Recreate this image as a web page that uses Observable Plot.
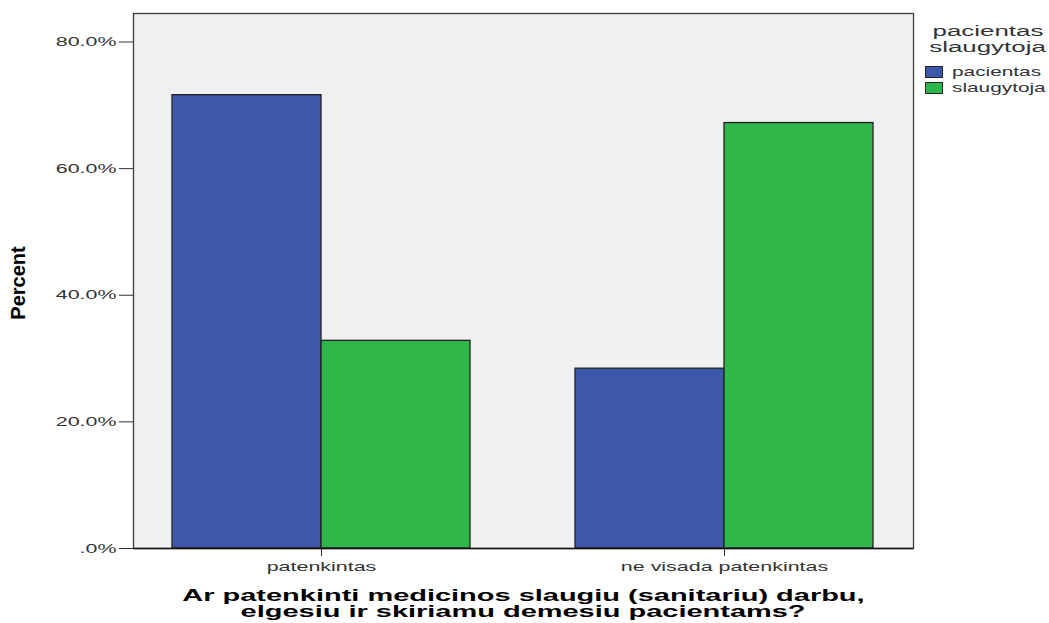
<!DOCTYPE html>
<html><head><meta charset="utf-8">
<script src="https://cdn.jsdelivr.net/npm/d3@7"></script>
<script src="https://cdn.jsdelivr.net/npm/@observablehq/plot@0.6"></script>
<style>
body{margin:0;background:#fff;font-family:"Liberation Sans",Arial,sans-serif;}
#wrap{position:relative;width:1049px;height:623px;overflow:hidden;}
.st{display:inline-block;white-space:nowrap;transform-origin:center;}
</style></head><body><div id="wrap"></div>
<script>
// ---- data ----
const categories = ["patenkintas", "ne visada patenkintas"];
const series = ["pacientas", "slaugytoja"];
const pacientas = [71.6, 28.4];
const slaugytoja = [32.8, 67.2];
const yTicks = [0, 20, 40, 60, 80];
const colors = ["#3d58aa", "#2fb84a"];
const legendTitle = ["pacientas", "slaugytoja"];
const xTitle = ["Ar patenkinti medicinos slaugiu (sanitariu) darbu,", "elgesiu ir skiriamu demesiu pacientams?"];
const yTitle = "Percent";

const values = {pacientas, slaugytoja};
const data = categories.flatMap((c, i) => series.map(s => ({category: c, group: s, value: values[s][i]})));

const S = 1.65; // horizontal stretch of text as in the reference

function build(bw) {
  return Plot.plot({
    width: 1049, height: 623,
    marginLeft: 133, marginRight: 136, marginTop: 13, marginBottom: 75,
    style: {fontFamily: '"Liberation Sans", Arial, sans-serif', fontSize: "13px", color: "#333", background: "transparent", overflow: "visible"},
    x: {domain: categories, paddingInner: 0.26, paddingOuter: 0.097, label: null, tickSize: 8, tickPadding: 5},
    y: {domain: [0, 84.5], ticks: yTicks, tickFormat: d => d === 0 ? ".0%" : d.toFixed(1) + "%", label: null, tickSize: 14, tickPadding: 3},
    color: {domain: series, range: colors},
    marks: [
      Plot.frame({fill: "#f0f0f0"}),
      Plot.barY(data.filter(d => d.group === series[0]), {x: "category", y: "value", fill: "group", stroke: "#222", strokeWidth: 1.3, insetRight: bw / 2}),
      Plot.barY(data.filter(d => d.group === series[1]), {x: "category", y: "value", fill: "group", stroke: "#222", strokeWidth: 1.3, insetLeft: bw / 2}),
      Plot.frame({stroke: "#3a3a3a", strokeWidth: 1.3}),
      Plot.ruleY([0], {stroke: "#111", strokeWidth: 1.5})
    ]
  });
}

const probe = build(0);
const bw = probe.scale("x").bandwidth;
const chart = build(bw);
const wrap = document.getElementById("wrap");
wrap.appendChild(chart);

chart.querySelectorAll("text").forEach(t => {
  const ax = parseFloat(t.getAttribute("x")) || 0;
  const prev = t.getAttribute("transform") || "";
  t.setAttribute("transform", `${prev} translate(${ax},0) scale(${S},1) translate(${-ax},0)`);
});

// y title
const yt = document.createElement("div");
yt.textContent = yTitle;
yt.style.cssText = "position:absolute;left:18px;top:283px;transform:translate(-50%,-50%) rotate(-90deg);font-weight:bold;font-size:20px;color:#000;white-space:nowrap;line-height:20px;";
wrap.appendChild(yt);

// x title
const xt = document.createElement("div");
xt.style.cssText = "position:absolute;left:0;top:588px;width:1047px;text-align:center;font-weight:bold;font-size:16px;line-height:16px;color:#000;";
xTitle.forEach(line => {
  const d = document.createElement("div");
  d.style.height = "16px";
  const s = document.createElement("span");
  s.className = "st"; s.textContent = line; s.style.transform = "scaleX(1.81)";
  s.style.lineHeight = "16px";
  d.appendChild(s); xt.appendChild(d);
});
wrap.appendChild(xt);

// legend
const lg = document.createElement("div");
lg.style.cssText = "position:absolute;left:928px;top:24px;width:120px;text-align:center;font-size:14px;line-height:15.5px;color:#333;";
legendTitle.forEach(line => {
  const d = document.createElement("div");
  const s = document.createElement("span");
  s.className = "st"; s.textContent = line; s.style.transform = "scaleX(1.85)";
  d.appendChild(s); lg.appendChild(d);
});
wrap.appendChild(lg);

series.forEach((name, i) => {
  const row = document.createElement("div");
  row.style.cssText = `position:absolute;left:925px;top:${65 + i * 16}px;height:13px;display:flex;align-items:center;`;
  const sw = document.createElement("div");
  sw.style.cssText = `width:16px;height:10px;border:1px solid #222;background:${colors[i]};`;
  const lb = document.createElement("span");
  lb.textContent = name;
  lb.style.cssText = "display:inline-block;margin-left:9px;font-size:13px;color:#333;transform:scaleX(1.6);transform-origin:left center;white-space:nowrap;";
  row.appendChild(sw); row.appendChild(lb);
  wrap.appendChild(row);
});
</script>
</body></html>
